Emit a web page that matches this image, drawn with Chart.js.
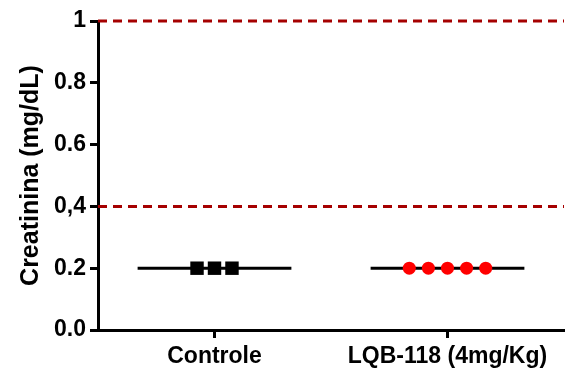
<!DOCTYPE html>
<html>
<head>
<meta charset="utf-8">
<script src="https://cdn.jsdelivr.net/npm/chart.js@4.4.1/dist/chart.umd.min.js"></script>
<style>
  html, body { margin: 0; padding: 0; background: #fff; }
  #wrap { width: 565px; height: 369px; position: relative; }
</style>
</head>
<body>
<div id="wrap"><canvas id="chart"></canvas></div>
<script>
const categories   = ["Controle", "LQB-118 (4mg/Kg)"];
const controleVals = [0.2, 0.2, 0.2];
const lqbVals      = [0.2, 0.2, 0.2, 0.2, 0.2];
const refLines     = [1, 0.4];
const yTickLabels  = ["0.0", "0.2", "0,4", "0.6", "0.8", "1"];

const FONT = "'Liberation Sans', Arial, Helvetica, sans-serif";
const RED_DASH = "#a50000";

function mean(arr) {
    return arr.reduce((a, b) => a + b, 0) / arr.length;
}

// spread the points of a group side by side around its category
function spread(vals, catIndex, step) {
    const mid = (vals.length - 1) / 2;
    return vals.map((v, i) => ({ x: catIndex + 1 + (i - mid) * step, y: v }));
}

function meanLine(vals, catIndex) {
    const m = mean(vals);
    return [{ x: catIndex + 1 - 0.33, y: m }, { x: catIndex + 1 + 0.33, y: m }];
}

const datasets = [
    {
        type: 'scatter',
        data: spread(controleVals, 0, 0.075),
        pointStyle: 'rect',
        pointRadius: 9.5,
        backgroundColor: '#000',
        borderColor: '#000',
        borderWidth: 0,
        order: 0,
    },
    {
        type: 'scatter',
        data: spread(lqbVals, 1, 0.082),
        pointStyle: 'circle',
        pointRadius: 6.5,
        backgroundColor: '#ff0000',
        borderColor: '#ff0000',
        borderWidth: 0,
        order: 0,
    },
    {
        type: 'line',
        data: meanLine(controleVals, 0),
        borderColor: '#000',
        borderWidth: 3,
        pointRadius: 0,
        order: 1,
    },
    {
        type: 'line',
        data: meanLine(lqbVals, 1),
        borderColor: '#000',
        borderWidth: 3,
        pointRadius: 0,
        order: 1,
    },
];

for (const v of refLines) {
    datasets.push({
        type: 'line',
        data: [{ x: 0.5, y: v }, { x: 2.5, y: v }],
        borderColor: RED_DASH,
        borderWidth: 3,
        borderDash: [9, 6],
        pointRadius: 0,
        order: 2,
    });
}

new Chart(document.getElementById('chart').getContext('2d'), {
    type: 'scatter',
    data: { datasets: datasets },
    options: {
        responsive: true,
        maintainAspectRatio: false,
        animation: false,
        clip: false,
        layout: { autoPadding: false, padding: { top: 21, right: 1, bottom: 0, left: 0 } },
        plugins: { legend: { display: false }, tooltip: { enabled: false } },
        scales: {
            x: {
                type: 'linear',
                min: 0.5,
                max: 2.5,
                afterBuildTicks: (s) => { s.ticks = categories.map((c, i) => ({ value: i + 1 })); },
                afterFit: (s) => { s.height = 39; s.paddingLeft = 0; s.paddingRight = 0; },
                grid: { drawOnChartArea: false, drawTicks: true, tickLength: 8, color: '#000', lineWidth: 3 },
                border: { color: '#000', width: 3 },
                ticks: {
                    color: '#000',
                    padding: 5,
                    maxRotation: 0,
                    font: { family: FONT, size: 23, weight: 'bold' },
                    callback: (v) => categories[Math.round(v) - 1],
                },
            },
            y: {
                min: 0,
                max: 1,
                afterFit: (s) => { s.width = 98; },
                grid: { drawOnChartArea: false, drawTicks: true, tickLength: 8, color: '#000', lineWidth: 3 },
                border: { color: '#000', width: 3 },
                ticks: {
                    stepSize: 0.2,
                    color: '#000',
                    padding: 4,
                    font: { family: FONT, size: 23, weight: 'bold' },
                    callback: (v, i) => yTickLabels[i],
                },
                title: {
                    display: true,
                    text: 'Creatinina (mg/dL)',
                    color: '#000',
                    padding: { top: 16, bottom: 0 },
                    font: { family: FONT, size: 25, weight: 'bold' },
                },
            },
        },
    },
});
</script>
</body>
</html>
